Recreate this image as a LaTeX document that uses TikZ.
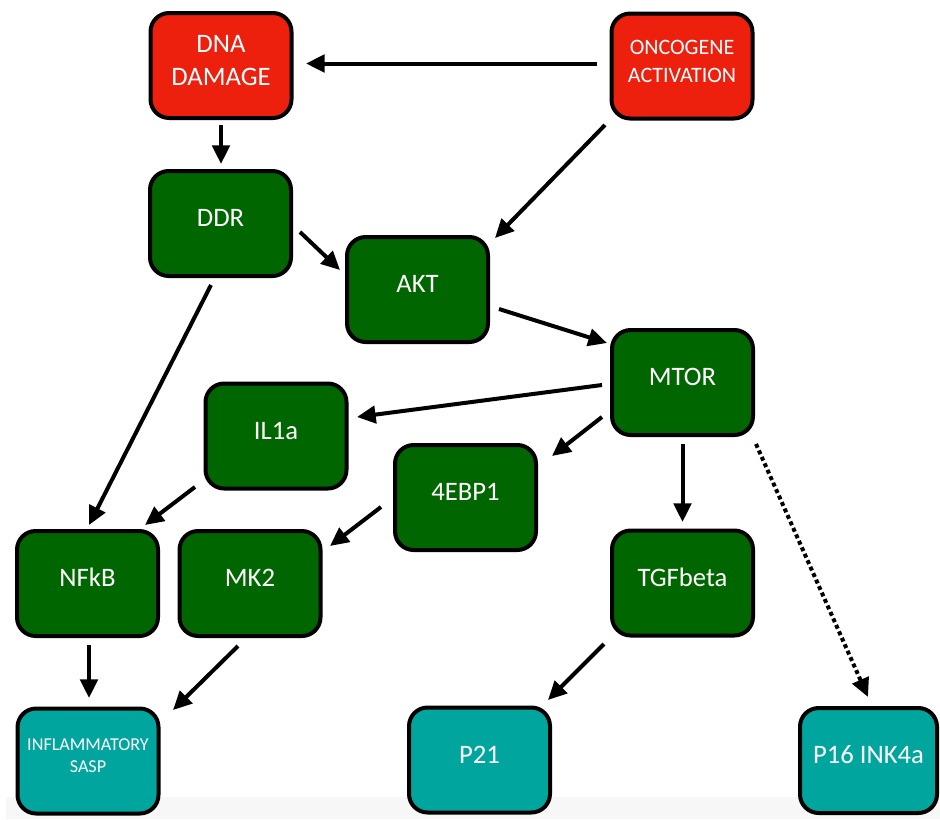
\documentclass[tikz,border=0pt]{standalone}
\usepackage{fontspec}
\setmainfont{Carlito}
\usetikzlibrary{arrows.meta}
\definecolor{boxred}{RGB}{237,32,14}
\definecolor{boxgreen}{RGB}{0,102,0}
\definecolor{boxteal}{RGB}{0,166,157}
\definecolor{bandgray}{RGB}{247,247,247}
\newcommand\boxtext[2]{\raisebox{#1}[0pt][0pt]{\begin{tabular}{@{}c@{}}#2\end{tabular}}}
\tikzset{
  pbox/.style={draw=black, line width=3pt, rounded corners=14pt,
    minimum width=105.75pt, minimum height=78.75pt, inner sep=0pt,
    text=white, font=\fontsize{20}{24.4}\selectfont},
  redbox/.style={pbox, fill=boxred},
  greenbox/.style={pbox, fill=boxgreen},
  tealbox/.style={pbox, fill=boxteal},
  arr/.style={line width=3pt, -{Triangle[length=14pt,width=13pt]}},
  dotarr/.style={arr, dash pattern=on 3pt off 2.3pt}
}
\begin{document}
\begin{tikzpicture}[x=0.75pt,y=-0.75pt]
\useasboundingbox (0,0) rectangle (940,819);
\fill[bandgray] (6,797) rectangle (940,819);

\node[redbox, font=\fontsize{20}{24.4}\selectfont] (dna) at (221,65.5) {\boxtext{-2.8pt}{DNA\\DAMAGE}};
\node[redbox, font=\fontsize{16.5}{21}\selectfont] (onco) at (682,66) {\boxtext{-2.2pt}{ONCOGENE\\ACTIVATION}};
\node[greenbox] (ddr) at (220.5,223.5) {\boxtext{-2.8pt}{DDR}};
\node[greenbox] (akt) at (417.5,289.5) {\boxtext{-2.8pt}{AKT}};
\node[greenbox] (mtor) at (682.5,382.5) {\boxtext{-2.8pt}{MTOR}};
\node[greenbox] (il1a) at (276,436) {\boxtext{-2.8pt}{IL1a}};
\node[greenbox] (ebp) at (465.5,497.5) {\boxtext{-2.8pt}{4EBP1}};
\node[greenbox] (nfkb) at (87.5,583.5) {\boxtext{-2.8pt}{NFkB}};
\node[greenbox] (mk2) at (250,583.5) {\boxtext{-2.8pt}{MK2}};
\node[greenbox] (tgf) at (682.5,583) {\boxtext{-2.8pt}{TGFbeta}};
\node[tealbox, font=\fontsize{13.6}{16}\selectfont] (sasp) at (88,761) {\boxtext{-0.8pt}{INFLAMMATORY\\SASP}};
\node[tealbox] (p21) at (479.5,760) {\boxtext{-2.8pt}{P21}};
\node[tealbox, minimum width=102.75pt] (p16) at (868.5,760.5) {\boxtext{-2.8pt}{P16 INK4a}};

\draw[arr] ([shift={(-85,-2.5)}]onco.center) -- ([shift={(85,-2)}]dna.center);
\draw[arr] ([shift={(0,59.5)}]dna.center) -- ([shift={(0.5,-59.5)}]ddr.center);
\draw[arr] ([shift={(-77,59)}]onco.center) -- ([shift={(77.5,-51.5)}]akt.center);
\draw[arr] ([shift={(79.5,8.5)}]ddr.center) -- ([shift={(-77.5,-19.5)}]akt.center);
\draw[arr] ([shift={(-9.5,61.5)}]ddr.center) -- ([shift={(1.5,-58.5)}]nfkb.center);
\draw[arr] ([shift={(81.5,19.5)}]akt.center) -- ([shift={(-75.5,-39.5)}]mtor.center);
\draw[arr] ([shift={(-80.5,2.5)}]mtor.center) -- ([shift={(81,-19)}]il1a.center);
\draw[arr] ([shift={(-80.5,34.5)}]mtor.center) -- ([shift={(86.5,-41.5)}]ebp.center);
\draw[arr] ([shift={(0,61.5)}]mtor.center) -- ([shift={(0,-61)}]tgf.center);
\draw[dotarr] ([shift={(73.5,61.5)}]mtor.center) -- ([shift={(-0.5,-63.5)}]p16.center);
\draw[arr] ([shift={(-81,51)}]il1a.center) -- ([shift={(57.5,-58.5)}]nfkb.center);
\draw[arr] ([shift={(-84.5,9.5)}]ebp.center) -- ([shift={(80,-37.5)}]mk2.center);
\draw[arr] ([shift={(1.5,61.5)}]nfkb.center) -- ([shift={(1,-63)}]sasp.center);
\draw[arr] ([shift={(-12,62.5)}]mk2.center) -- ([shift={(85,-51)}]sasp.center);
\draw[arr] ([shift={(-78.5,61)}]tgf.center) -- ([shift={(68.5,-60)}]p21.center);
\end{tikzpicture}
\end{document}
